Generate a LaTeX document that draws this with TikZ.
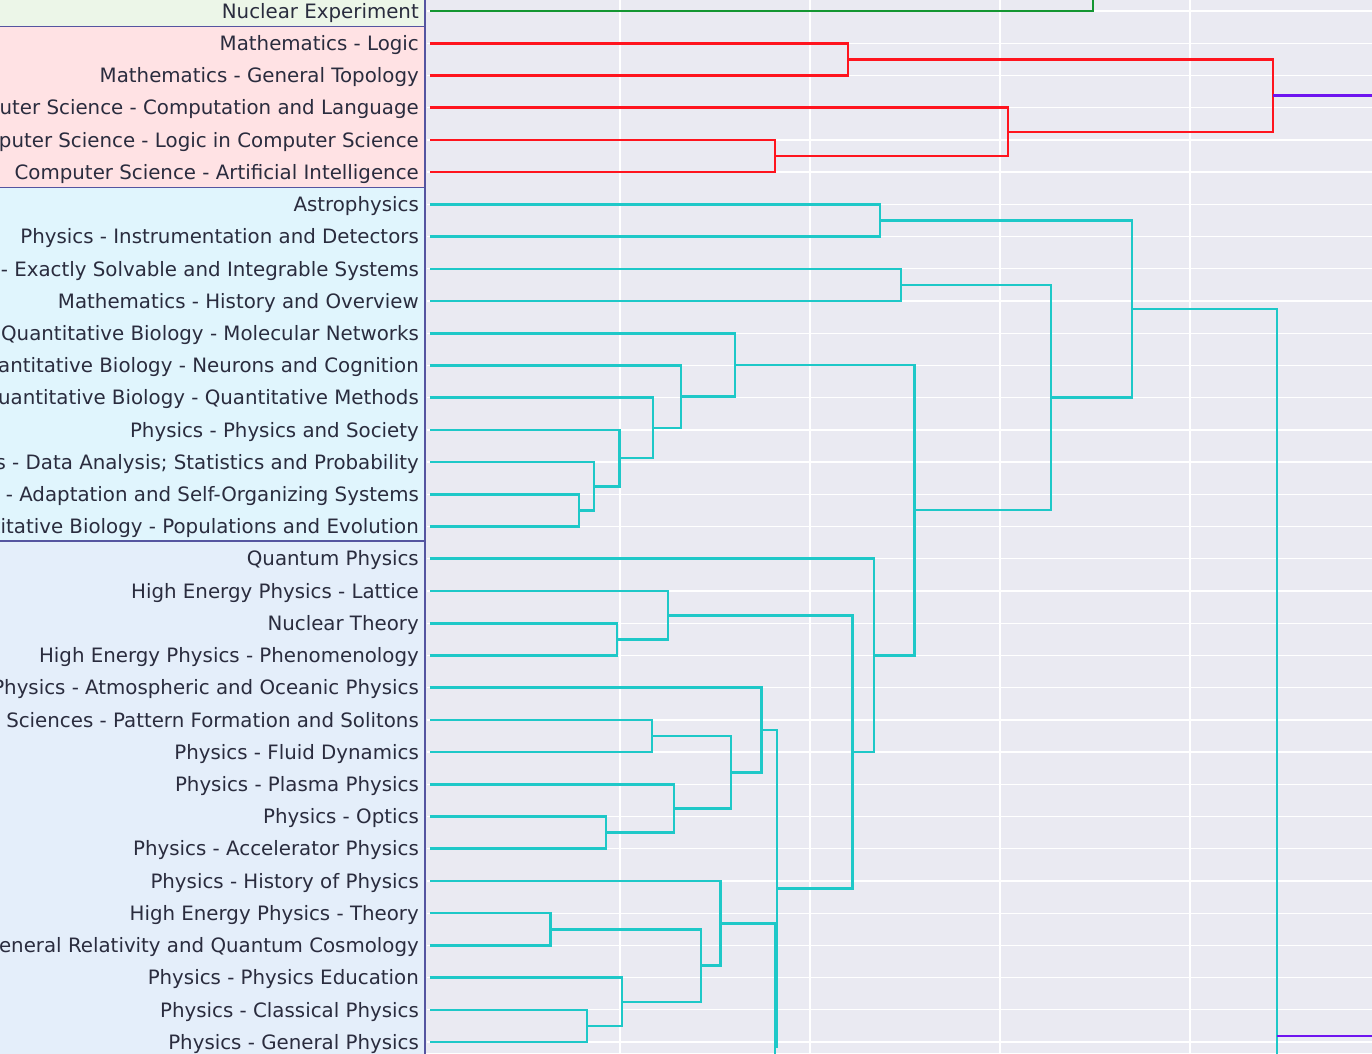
\documentclass[tikz,border=0pt]{standalone}
\usepackage{fontspec}
\setmainfont{DejaVu Sans}

\definecolor{plotbg}{RGB}{234,234,242}
\definecolor{labelgrey}{RGB}{42,44,62}
\definecolor{panelline}{RGB}{85,85,160}
\definecolor{greenbg}{RGB}{236,246,232}
\definecolor{pinkbg}{RGB}{255,226,228}
\definecolor{cyanbg}{RGB}{224,245,253}
\definecolor{bluebg}{RGB}{228,238,250}
\definecolor{linkgreen}{RGB}{20,150,50}
\definecolor{linkred}{RGB}{255,20,30}
\definecolor{linkcyan}{RGB}{30,200,200}
\definecolor{linkpurple}{RGB}{110,20,240}

\begin{document}
\begin{tikzpicture}[
  x=1pt, y=-1pt,
  lbl/.style={anchor=east, inner xsep=11pt, inner ysep=0pt, text height=14.4pt, text depth=0pt,
    text=labelgrey, font=\fontsize{19.8}{23}\selectfont},
  panel/.style={draw=panelline, line width=1.8pt},
  gridline/.style={draw=white, line width=1.3pt},
  link/.style={line width=2.6pt, line join=miter},
  greenlink/.style={link, draw=linkgreen},
  redlink/.style={link, draw=linkred},
  cyanlink/.style={link, draw=linkcyan},
  rootlink/.style={link, draw=linkpurple}
]
\useasboundingbox (0,0) rectangle (1372,1053);
\clip (0,0) rectangle (1372,1053);

% plot area and grid
\fill[plotbg] (425,0) rectangle (1372,1053);
\foreach \i in {0,...,32}
  \draw[gridline] (427,11+32.22*\i) -- (1372,11+32.22*\i);
\foreach \gx in {620,810,1000,1190}
  \draw[gridline] (\gx,0) -- (\gx,1053);

% label panels
\draw[panel, fill=greenbg] (-10,-20) rectangle (425,26.5);
\draw[panel, fill=pinkbg] (-10,26.5) rectangle (425,187.5);
\draw[panel, fill=cyanbg] (-10,187.5) rectangle (425,541);
\draw[panel, fill=bluebg] (-10,541) rectangle (425,1080);

% leaves
\node[lbl] (nucexp) at (430,11.0) {Nuclear Experiment};
\node[lbl] (mlogic) at (430,43.2) {Mathematics - Logic};
\node[lbl] (mtop) at (430,75.4) {Mathematics - General Topology};
\node[lbl] (cscl) at (430,107.7) {Computer Science - Computation and Language};
\node[lbl] (cslo) at (430,139.9) {Computer Science - Logic in Computer Science};
\node[lbl] (csai) at (430,172.1) {Computer Science - Artificial Intelligence};
\node[lbl] (astro) at (430,204.3) {Astrophysics};
\node[lbl] (instr) at (430,236.5) {Physics - Instrumentation and Detectors};
\node[lbl] (exact) at (430,268.8) {Nonlinear Sciences - Exactly Solvable and Integrable Systems};
\node[lbl] (mhist) at (430,301.0) {Mathematics - History and Overview};
\node[lbl] (qbmol) at (430,333.2) {Quantitative Biology - Molecular Networks};
\node[lbl] (qbneu) at (430,365.4) {Quantitative Biology - Neurons and Cognition};
\node[lbl] (qbqm) at (430,397.6) {Quantitative Biology - Quantitative Methods};
\node[lbl] (physoc) at (430,429.9) {Physics - Physics and Society};
\node[lbl] (data) at (430,462.1) {Physics - Data Analysis; Statistics and Probability};
\node[lbl] (adapt) at (430,494.3) {Nonlinear Sciences - Adaptation and Self-Organizing Systems};
\node[lbl] (qbpop) at (430,526.5) {Quantitative Biology - Populations and Evolution};
\node[lbl] (qp) at (430,558.7) {Quantum Physics};
\node[lbl] (lat) at (430,591.0) {High Energy Physics - Lattice};
\node[lbl] (nth) at (430,623.2) {Nuclear Theory};
\node[lbl] (phen) at (430,655.4) {High Energy Physics - Phenomenology};
\node[lbl] (atmo) at (430,687.6) {Physics - Atmospheric and Oceanic Physics};
\node[lbl] (patt) at (430,719.8) {Nonlinear Sciences - Pattern Formation and Solitons};
\node[lbl] (fluid) at (430,752.0) {Physics - Fluid Dynamics};
\node[lbl] (plasma) at (430,784.3) {Physics - Plasma Physics};
\node[lbl] (optics) at (430,816.5) {Physics - Optics};
\node[lbl] (accel) at (430,848.7) {Physics - Accelerator Physics};
\node[lbl] (hist) at (430,880.9) {Physics - History of Physics};
\node[lbl] (hept) at (430,913.1) {High Energy Physics - Theory};
\node[lbl] (grqc) at (430,945.4) {General Relativity and Quantum Cosmology};
\node[lbl] (edu) at (430,977.6) {Physics - Physics Education};
\node[lbl] (class) at (430,1009.8) {Physics - Classical Physics};
\node[lbl] (genph) at (430,1042.0) {Physics - General Physics};

% merge points
\coordinate (g1) at (1093,-60);
\coordinate (r1) at (848,59.3);
\coordinate (r2) at (775,156.0);
\coordinate (r3) at (1008,131.9);
\coordinate (r4) at (1273,95.6);
\coordinate (c1) at (880,220.4);
\coordinate (c2) at (901,284.9);
\coordinate (c3) at (579,510.4);
\coordinate (c4) at (594,486.3);
\coordinate (c5) at (619.5,458.1);
\coordinate (c6) at (653,427.9);
\coordinate (c7) at (681,396.6);
\coordinate (c8) at (735,364.9);
\coordinate (b1) at (617,639.3);
\coordinate (b2) at (668,615.2);
\coordinate (b3) at (652,735.9);
\coordinate (b4) at (606,832.6);
\coordinate (b5) at (674,808.5);
\coordinate (b6) at (731,772.2);
\coordinate (b7) at (761.5,729.9);
\coordinate (b8) at (550.6,929.3);
\coordinate (b9) at (587,1025.9);
\coordinate (b10) at (622,1001.8);
\coordinate (b11) at (701,965.6);
\coordinate (b12) at (720.5,923.3);
\coordinate (below1) at (740,1170.7);
\coordinate (b13) at (775,1047.0);
\coordinate (b14) at (777,888.5);
\coordinate (b15) at (852.6,751.9);
\coordinate (b16) at (874,655.3);
\coordinate (c9) at (914.6,510.1);
\coordinate (c10) at (1051,397.5);
\coordinate (c11) at (1132,309.0);
\coordinate (below2) at (1200,1763);
\coordinate (c12) at (1277,1036);
\coordinate (root) at (1500,565);

% links
\draw[greenlink] (nucexp.east) -| (g1);
\draw[redlink] (mlogic.east) -| (r1) |- (mtop.east);
\draw[redlink] (cslo.east) -| (r2) |- (csai.east);
\draw[redlink] (cscl.east) -| (r3) |- (r2);
\draw[redlink] (r1) -| (r4) |- (r3);
\draw[cyanlink] (astro.east) -| (c1) |- (instr.east);
\draw[cyanlink] (exact.east) -| (c2) |- (mhist.east);
\draw[cyanlink] (adapt.east) -| (c3) |- (qbpop.east);
\draw[cyanlink] (data.east) -| (c4) |- (c3);
\draw[cyanlink] (physoc.east) -| (c5) |- (c4);
\draw[cyanlink] (qbqm.east) -| (c6) |- (c5);
\draw[cyanlink] (qbneu.east) -| (c7) |- (c6);
\draw[cyanlink] (qbmol.east) -| (c8) |- (c7);
\draw[cyanlink] (nth.east) -| (b1) |- (phen.east);
\draw[cyanlink] (lat.east) -| (b2) |- (b1);
\draw[cyanlink] (patt.east) -| (b3) |- (fluid.east);
\draw[cyanlink] (optics.east) -| (b4) |- (accel.east);
\draw[cyanlink] (plasma.east) -| (b5) |- (b4);
\draw[cyanlink] (b3) -| (b6) |- (b5);
\draw[cyanlink] (atmo.east) -| (b7) |- (b6);
\draw[cyanlink] (hept.east) -| (b8) |- (grqc.east);
\draw[cyanlink] (class.east) -| (b9) |- (genph.east);
\draw[cyanlink] (edu.east) -| (b10) |- (b9);
\draw[cyanlink] (b8) -| (b11) |- (b10);
\draw[cyanlink] (hist.east) -| (b12) |- (b11);
\draw[cyanlink] (b12) -| (b13) |- (below1);
\draw[cyanlink] (b7) -| (b14) |- (b13);
\draw[cyanlink] (b2) -| (b15) |- (b14);
\draw[cyanlink] (qp.east) -| (b16) |- (b15);
\draw[cyanlink] (c8) -| (c9) |- (b16);
\draw[cyanlink] (c2) -| (c10) |- (c9);
\draw[cyanlink] (c1) -| (c11) |- (c10);
\draw[cyanlink] (c11) -| (c12) |- (below2);
\draw[rootlink] (r4) -| (root) |- (c12);
\end{tikzpicture}
\end{document}
